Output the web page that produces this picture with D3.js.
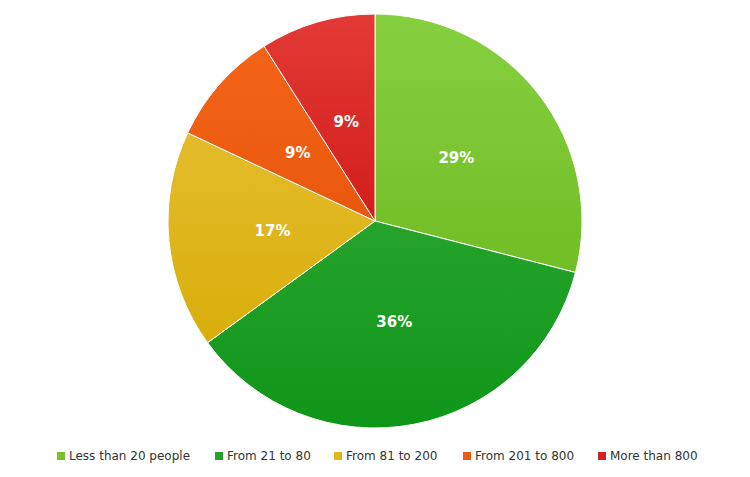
<!DOCTYPE html>
<html><head><meta charset="utf-8">
<script src="https://cdn.jsdelivr.net/npm/d3@7"></script>
<style>body{margin:0;background:#fff}</style>
</head><body>
<svg id="chart" width="750" height="477"></svg>
<script>
const categories = ['Less than 20 people', 'From 21 to 80', 'From 81 to 200', 'From 201 to 800', 'More than 800'];
const values = [29, 36, 17, 9, 9];
const topColors = ['#86d040', '#3cb040', '#eac43a', '#f6661a', '#e23a36'];
const bottomColors = ['#64b214', '#0f9618', '#d4a800', '#dc4800', '#c40000'];
const legendColors = ['#76c22e', '#22a22a', '#e0b81c', '#ee5810', '#d42020'];

const svg = d3.select('#chart');
const cx = 375, cy = 221, r = 207;

const defs = svg.append('defs');
categories.forEach((c, i) => {
  const g = defs.append('linearGradient').attr('id', 'g' + i)
    .attr('gradientUnits', 'userSpaceOnUse')
    .attr('x1', 0).attr('y1', -r).attr('x2', 0).attr('y2', r);
  g.append('stop').attr('offset', '0%').attr('stop-color', topColors[i]);
  g.append('stop').attr('offset', '100%').attr('stop-color', bottomColors[i]);
});

const pie = d3.pie().sort(null).value(d => d);
const arcs = pie(values);
const arc = d3.arc().innerRadius(0).outerRadius(r);
const labelArc = d3.arc().innerRadius(103).outerRadius(103);

const g = svg.append('g').attr('transform', `translate(${cx},${cy})`);
g.selectAll('path').data(arcs).enter().append('path')
  .attr('d', arc)
  .attr('fill', (d, i) => `url(#g${i})`)
  .attr('stroke', '#fff').attr('stroke-width', 1);

g.selectAll('text').data(arcs).enter().append('text')
  .attr('transform', d => `translate(${labelArc.centroid(d)})`)
  .attr('text-anchor', 'middle').attr('dy', '0.35em')
  .attr('fill', '#fff').attr('font-weight', 'bold')
  .attr('font-family', 'DejaVu Sans, sans-serif').attr('font-size', 15)
  .text(d => d.data + '%');

const legendX = [57, 215, 334, 463, 598];
const legend = svg.append('g').selectAll('g').data(categories).enter().append('g')
  .attr('transform', (d, i) => `translate(${legendX[i]},456)`);
legend.append('rect').attr('x', 0).attr('y', -4).attr('width', 8).attr('height', 8)
  .attr('fill', (d, i) => legendColors[i]);
legend.append('text').attr('x', 12).attr('dy', '0.35em')
  .attr('font-family', 'DejaVu Sans, sans-serif').attr('font-size', 12).attr('fill', '#333')
  .text(d => d);
</script>
</body></html>
